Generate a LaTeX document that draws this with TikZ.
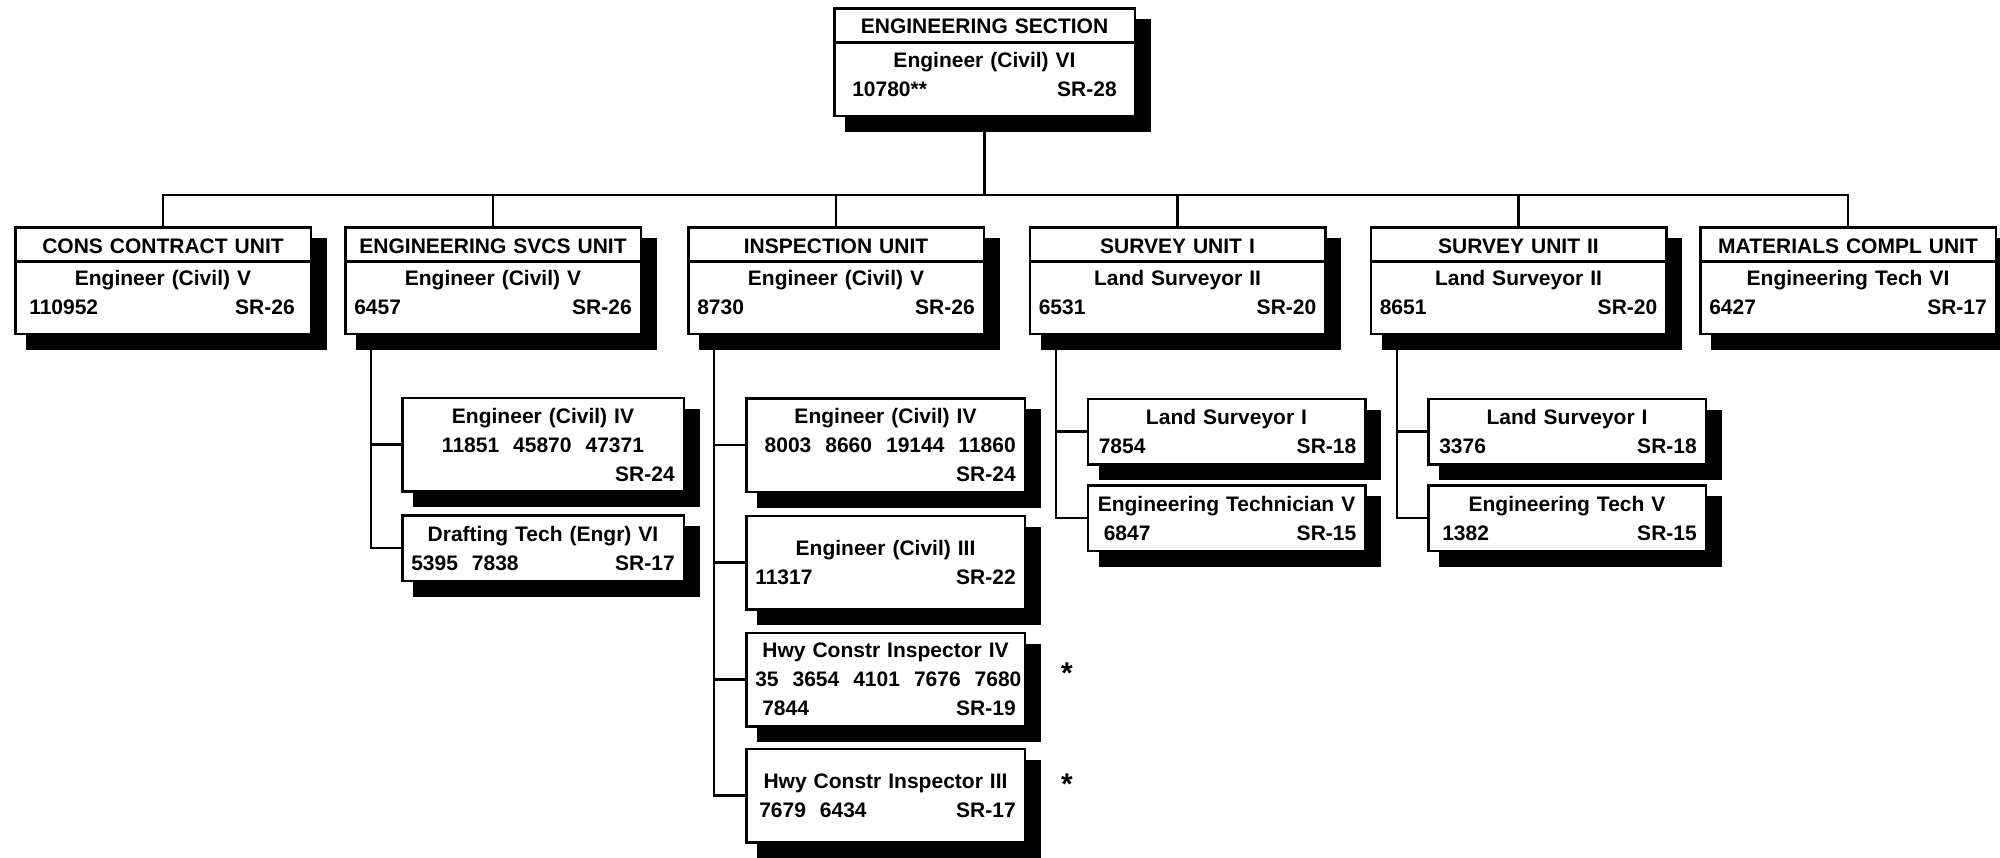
\documentclass[tikz,border=0pt]{standalone}
\usepackage{fontspec}
\setmainfont{Liberation Sans}
\usetikzlibrary{calc,backgrounds}

\newcommand{\fs}{\fontsize{10.5pt}{14.5pt}\selectfont\bfseries}
\newcommand{\lift}[1]{\rule[-#1]{0pt}{0pt}}

\begin{document}
\begin{tikzpicture}[x=0.5pt,y=-0.5pt]
\tikzstyle{box}=[draw,fill=white,line width=1.25pt,outer sep=0pt,inner xsep=4.5pt,inner ysep=1pt,align=center,font=\fs]
\tikzstyle{head}=[box,text width=141.25pt,minimum height=53.75pt]
\tikzstyle{unit}=[box,text width=138.75pt,minimum height=53.25pt]
\tikzstyle{post}=[box,minimum height=46.75pt]
\tikzstyle{small}=[box,minimum height=32.75pt]
\tikzstyle{link}=[draw,line width=1.1pt]
\tikzstyle{starmark}=[font=\fontsize{15pt}{15pt}\selectfont\bfseries,inner sep=0pt]

\useasboundingbox (0,0) rectangle (2000,857);

% section head
\node[head] (sec) at (984.5,62) {ENGINEERING SECTION\\[2.5pt] Engineer (Civil) VI\\ \hspace*{4.5pt}10780**\hfill SR-28\hspace*{4.5pt}\lift{4.5pt}};

% units
\node[unit] (cons) at (163,280.5) {CONS CONTRACT UNIT\\[1.5pt] Engineer (Civil) V\\ \hspace*{2.5pt}110952\hfill SR-26\hspace*{3.5pt}\lift{3.5pt}};
\node[unit] (svcs) at (493,280.5) {ENGINEERING SVCS UNIT\\[1.5pt] Engineer (Civil) V\\ 6457\hfill SR-26\lift{3.5pt}};
\node[unit] (insp) at (836,280.5) {INSPECTION UNIT\\[1.5pt] Engineer (Civil) V\\ 8730\hfill SR-26\lift{3.5pt}};
\node[unit] (surv1) at (1177.5,280.5) {SURVEY UNIT I\\[1.5pt] Land Surveyor II\\ 6531\hfill SR-20\lift{3.5pt}};
\node[unit] (surv2) at (1518.5,280.5) {SURVEY UNIT II\\[1.5pt] Land Surveyor II\\ 8651\hfill SR-20\lift{3.5pt}};
\node[unit] (matl) at (1848,280.5) {MATERIALS COMPL UNIT\\[1.5pt] Engineering Tech VI\\ 6427\hfill SR-17\lift{3.5pt}};

% engineering svcs
\node[post,text width=131.75pt] (svcs4) at (543,444.5) {Engineer (Civil) IV\\ 11851~~45870~~47371\\ \hfill SR-24};
\node[small,text width=131.75pt] (draft) at (543,548) {Drafting Tech (Engr) VI\\ 5395~~7838\hfill SR-17};

% inspection
\node[post,text width=130.25pt] (insp4) at (885.5,445) {Engineer (Civil) IV\\ \hfill 8003~~8660~~19144~~11860\\ \hfill SR-24};
\node[post,text width=130.25pt] (insp3) at (885.5,562.5) {Engineer (Civil) III\\ 11317\hfill SR-22\hspace*{3pt}};
\node[post,text width=130.25pt] (hwy4) at (885.5,679.5) {Hwy Constr Inspector IV\\ 35~~3654~~4101~~7676~~7680\\ \hspace*{3.5pt}7844\hfill SR-19\hspace*{3.5pt}};
\node[post,text width=130.25pt] (hwy3) at (885.5,795.5) {Hwy Constr Inspector III\\ \hspace*{2pt}7679~~6434\hfill SR-17\hspace*{2pt}};
\node[starmark] (star1) at (1067,673) {*};
\node[starmark] (star2) at (1067,784) {*};

% surveys
\node[small,text width=129.75pt] (ls1a) at (1226.5,431.5) {Land Surveyor I\\ \hspace*{1pt}7854\hfill SR-18};
\node[small,text width=129.75pt] (et5a) at (1226.5,518) {Engineering Technician V\\ \hspace*{3.5pt}6847\hfill SR-15\hspace*{4.5pt}};
\node[small,text width=129.75pt] (ls1b) at (1567,431.5) {Land Surveyor I\\ \hspace*{1pt}3376\hfill SR-18};
\node[small,text width=129.75pt] (et5b) at (1567,518) {Engineering Tech V\\ \hspace*{2.5pt}1382\hfill SR-15\hspace*{2.5pt}};

% shadows
\begin{scope}[on background layer]
\foreach \b in {sec,cons,svcs,insp,surv1,surv2,matl,svcs4,draft,insp4,insp3,hwy4,hwy3,ls1a,et5a,ls1b,et5b}
  \fill ($(\b.north west)+(11,11)$) rectangle ($(\b.south east)+(16,16)$);
\end{scope}

% title rules
\foreach \b in {sec,cons,svcs,insp,surv1,surv2,matl}
  \draw[line width=1.25pt] ([yshift=-17pt]\b.north west) -- ([yshift=-17pt]\b.north east);

% links
\coordinate (bus) at (984.5,195);
\foreach \u in {cons,svcs,insp,surv1,surv2,matl}
  \draw[link] (sec.south) |- (\u.north |- bus) -- (\u.north);
\foreach \u/\c in {svcs/svcs4,svcs/draft,insp/insp4,insp/insp3,insp/hwy4,insp/hwy3,surv1/ls1a,surv1/et5a,surv2/ls1b,surv2/et5b}
  \draw[link] ([xshift=13pt]\u.south west) |- (\c.west);
\end{tikzpicture}
\end{document}
